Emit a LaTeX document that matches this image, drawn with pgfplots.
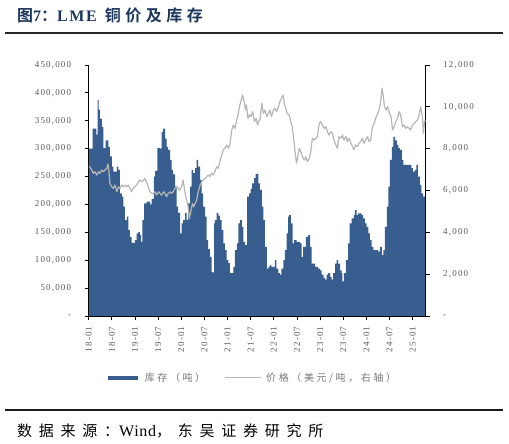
\documentclass[border=0pt]{standalone}
\usepackage{fontspec}
\usepackage{pgfplots}
\pgfplotsset{compat=1.18}
\setmainfont{Liberation Serif}
\newfontfamily\tickfont{Liberation Serif}[LetterSpace=13]
\newfontfamily\cjk{Noto Sans CJK SC}[LetterSpace=45]
\newfontfamily\srclatin{Liberation Serif}[LetterSpace=4]
\newfontfamily\cjklegend{Noto Sans CJK SC}[LetterSpace=26]
\newfontfamily\cjktitle{Noto Sans CJK SC Bold}[LetterSpace=28]
\newfontfamily\latintitle{Liberation Serif}[LetterSpace=10]
\definecolor{invblue}{RGB}{56,94,143}
\definecolor{pricegray}{RGB}{182,182,182}
\definecolor{tickgray}{RGB}{89,89,89}
\definecolor{leggray}{RGB}{120,120,120}
\definecolor{titlenavy}{RGB}{28,55,93}

\pgfplotstableread{
m inv
0 300000
0.8 300000
1.0 336000
1.6 336000
2.0 325000
2.3 387000
2.6 370000
2.9 354000
3.4 339000
3.8 301000
4.4 315000
5.1 303000
5.5 286000
6.0 268000
6.4 259000
7.3 268000
7.7 262000
8.1 220000
8.6 214000
9.0 196000
9.4 172000
9.9 178000
10.3 154000
10.7 142000
11.1 131000
12.0 136000
12.4 148000
12.9 151000
13.3 145000
13.6 133000
13.9 172000
14.4 202000
15.0 205000
15.9 200000
16.3 210000
16.9 250000
17.2 260000
17.8 301000
18.5 300000
18.9 330000
19.3 336000
19.8 318000
20.2 303000
20.6 298000
21.1 280000
21.5 262000
21.9 254000
22.4 232000
22.8 196000
23.2 185000
23.7 148000
24.1 166000
24.5 172000
25.0 185000
25.4 172000
25.8 202000
26.3 232000
26.7 262000
27.1 256000
27.6 265000
28.0 280000
28.4 268000
28.9 244000
29.3 220000
29.7 196000
30.2 178000
30.6 136000
31.0 120000
31.4 106000
31.9 79000
32.1 78000
32.5 166000
32.7 172000
33.2 185000
33.6 180000
34.0 172000
34.5 154000
34.9 130000
35.3 118000
35.8 100000
36.2 95000
36.6 77000
37.1 77000
37.5 88000
37.9 118000
38.4 130000
38.8 166000
39.2 172000
39.7 160000
40.1 133000
40.5 127000
40.8 127000
41.1 214000
41.6 220000
42.0 228000
42.4 238000
42.9 247000
43.3 255000
43.6 255000
44.0 238000
44.4 226000
44.9 196000
45.3 172000
45.7 124000
46.2 85000
46.6 88000
47.0 91000
47.4 88000
48.3 100000
48.7 85000
49.2 77000
49.6 74000
50.0 85000
50.5 100000
50.9 118000
51.3 148000
51.7 178000
52.0 181000
52.4 166000
52.9 130000
53.3 136000
53.9 133000
54.8 130000
55.2 106000
55.6 124000
56.3 142000
56.9 145000
57.4 124000
57.8 94000
58.7 88000
59.5 85000
60.0 82000
60.4 74000
60.9 68000
61.3 65000
61.7 74000
62.1 77000
62.6 70000
63.0 65000
63.4 77000
63.9 94000
64.3 100000
64.7 94000
65.2 82000
65.6 77000
65.8 62000
66.2 77000
66.7 100000
67.3 130000
67.7 166000
68.2 175000
68.8 181000
69.0 190000
69.5 181000
69.9 184000
70.8 181000
71.2 175000
71.6 166000
72.1 160000
72.5 148000
72.9 136000
73.4 124000
73.8 118000
74.7 118000
75.1 115000
75.5 124000
76.0 109000
76.4 118000
76.8 160000
77.3 196000
77.7 232000
78.1 280000
78.6 303000
79.0 321000
79.4 315000
79.9 307000
80.3 301000
80.7 298000
81.2 280000
81.6 271000
82.4 271000
83.3 271000
83.7 265000
84.1 259000
84.6 262000
85.0 271000
85.4 250000
85.9 235000
86.3 220000
86.7 214000
87.4 216000
}\invtable

\pgfplotstableread{
m price
0.1 7170
0.8 6980
1.2 6820
1.6 6900
2.1 6740
2.5 6900
2.9 6820
3.4 6980
3.8 6900
4.2 6980
4.7 7060
5.0 7270
5.3 6820
5.5 6340
6.0 6180
6.4 6100
6.8 6260
7.3 5940
7.7 6180
8.1 6100
8.6 6260
9.0 6180
9.4 6260
9.9 6180
10.3 6260
10.7 6100
11.1 5940
11.5 6100
12.0 6180
12.4 6260
12.9 6420
13.3 6500
13.7 6420
14.2 6500
14.6 6580
15.0 6420
15.4 6180
15.9 5940
16.3 5860
16.7 5860
17.2 5940
17.6 5780
18.1 5940
18.5 5860
18.9 5780
19.4 5940
19.8 5860
20.2 5700
20.6 5860
21.1 5940
21.5 5860
21.9 5940
22.4 6100
22.9 6180
23.5 6020
24.1 6180
24.5 6500
25.0 5860
25.4 5540
25.8 5220
26.1 4650
26.5 5000
26.9 5380
27.2 5220
27.6 5380
28.0 5540
28.4 5940
28.9 6260
29.3 6420
29.7 6500
30.2 6580
30.6 6660
31.0 6740
31.4 6660
31.9 6820
32.3 6740
32.7 6900
33.2 7140
33.6 7060
34.0 7380
34.5 7700
34.9 7940
35.3 8020
35.8 8180
36.2 8020
36.6 8180
37.1 8890
37.5 9130
37.9 8970
38.4 9370
38.8 9690
39.2 10090
39.7 10410
39.9 10570
40.3 10250
40.7 9850
40.9 10090
41.3 9450
41.7 9610
42.1 9530
42.5 9770
43.0 9290
43.4 9450
43.8 9130
44.2 9370
44.4 9370
44.9 10170
45.3 9690
45.7 9850
46.2 9530
46.6 9690
47.0 9850
47.4 9530
47.9 9850
48.3 9930
48.7 9770
49.2 10010
49.6 10250
50.0 10410
50.5 10570
50.7 10170
51.1 9930
51.5 9690
52.0 9610
52.4 9290
52.8 9050
53.2 8410
53.5 7860
53.9 7300
54.3 7700
54.6 8020
55.0 7860
55.4 7620
55.9 7460
56.3 7620
56.7 7380
57.2 7540
57.6 7860
58.0 8500
58.5 8410
58.9 8500
59.3 8580
59.8 9210
60.2 9290
60.6 9130
61.1 8970
61.5 9050
61.9 8810
62.3 8650
62.8 8810
63.2 8730
63.6 8410
64.1 8180
64.5 8020
64.9 8580
65.4 8500
65.8 8650
66.2 8410
66.7 8580
67.1 8340
67.5 8500
68.0 8260
68.4 8100
68.8 7940
69.2 8180
69.7 8100
70.1 8260
70.5 8340
71.0 8500
71.4 8260
71.8 8410
72.3 8580
72.7 8340
73.1 8410
73.6 9050
74.0 9210
74.4 9450
74.8 9610
75.3 9850
75.7 10250
76.1 10890
76.4 10490
76.7 10010
77.1 9850
77.5 10010
77.9 9770
78.4 9530
78.8 8890
79.2 9050
79.6 9290
80.1 9450
80.5 9770
80.9 9610
81.4 9050
81.8 9130
82.2 8970
82.7 9050
83.1 8970
83.5 8890
84.0 9130
84.4 9210
84.8 9290
85.3 9370
85.7 9610
86.1 10010
86.6 9450
86.8 8730
87.1 9290
87.3 9370
}\pricetable

\begin{document}
\begin{tikzpicture}
\useasboundingbox (0pt,0pt) rectangle (509pt,-444pt);
% title and rules
\node[anchor=base west, inner sep=0pt, text=titlenavy] at (17pt,-22pt)
  {\cjktitle\fontsize{16}{17}\selectfont 图{\latintitle\bfseries 7}：{\latintitle\bfseries LME} 铜价及库存};
\draw[line width=1.6pt, black!85] (5pt,-33pt) -- (503pt,-33pt);
\draw[line width=1.4pt, black!90] (5pt,-410pt) -- (503pt,-410pt);
\node[anchor=base west, inner sep=0pt] at (17pt,-436pt)
  {\cjk\fontsize{15}{16}\selectfont 数据来源：{\srclatin\fontsize{16}{17}\selectfont Wind}，东吴证券研究所};

\begin{axis}[
  at={(88.7pt,-316pt)}, anchor=south west,
  scale only axis, width=337pt, height=251pt,
  xmin=0, xmax=87.4, ymin=0, ymax=450000,
  axis on top,
  axis x line*=bottom, axis y line*=left,
  axis line style={black, line width=0.8pt, -},
  tick align=outside, major tick length=4pt,
  tick style={black, line width=0.8pt},
  xtick={0,6,...,84},
  xticklabels={18-01,18-07,19-01,19-07,20-01,20-07,21-01,21-07,22-01,22-07,23-01,23-07,24-01,24-07,25-01},
  ytick={0,50000,...,450000},
  yticklabels={-,{50,000},{100,000},{150,000},{200,000},{250,000},{300,000},{350,000},{400,000},{450,000}},
  scaled ticks=false,
  /pgf/number format/assume math mode=true,
  xticklabel style={rotate=90, anchor=east, font=\tickfont\fontsize{9}{10}\selectfont, text=tickgray, xshift=-3pt},
  yticklabel style={font=\tickfont\fontsize{9}{10}\selectfont, text=tickgray, xshift=-10pt},
]
\addplot[const plot, fill=invblue, draw=none] table[x=m, y=inv] {\invtable} \closedcycle;
\end{axis}

\begin{axis}[
  at={(88.7pt,-316pt)}, anchor=south west,
  scale only axis, width=337pt, height=251pt,
  xmin=0, xmax=87.4, ymin=0, ymax=12000,
  axis x line=none, axis y line*=right,
  axis line style={black, line width=0.8pt, -},
  tick align=outside, major tick length=4pt,
  tick style={black, line width=0.8pt},
  ytick={0,2000,...,12000},
  yticklabels={-,{2,000},{4,000},{6,000},{8,000},{10,000},{12,000}},
  scaled ticks=false,
  /pgf/number format/assume math mode=true,
  yticklabel style={font=\tickfont\fontsize{9}{10}\selectfont, text=tickgray, xshift=10pt},
  legend style={at={(0.489,-0.247)}, anchor=center, draw=none, fill=none,
    font=\cjklegend\fontsize{10}{11}\selectfont, text=leggray,
    legend columns=2,
    nodes={inner xsep=5pt},
    /tikz/every even column/.append style={column sep=14pt}},
]
\addlegendimage{legend image code/.code={\draw[line width=4pt, invblue] (0pt,0pt) -- (30pt,0pt);}}
\addlegendentry{库存（吨）}
\addplot[pricegray, line width=1.2pt, line join=round,
  legend image code/.code={\draw[pricegray, line width=1pt] (0pt,0pt) -- (36pt,0pt);}]
  table[x=m, y=price] {\pricetable};
\addlegendentry{价格（美元/吨，右轴）}
\end{axis}
\end{tikzpicture}
\end{document}
